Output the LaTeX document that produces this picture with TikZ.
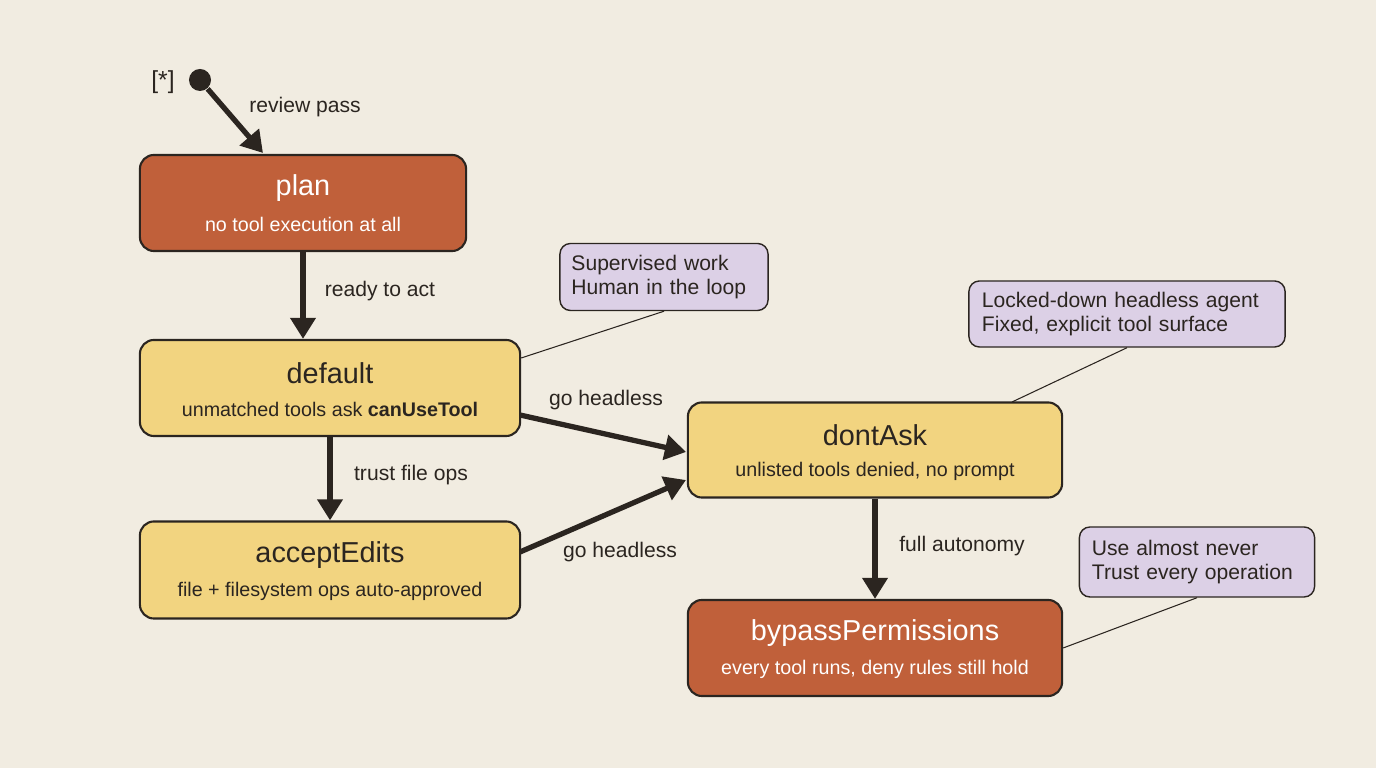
\documentclass[tikz,border=0pt]{standalone}
\usepackage{fontspec}
\setmainfont{Liberation Sans}
\usetikzlibrary{arrows.meta}
\definecolor{bg}{HTML}{F1ECE1}
\definecolor{hot}{HTML}{C0603A}
\definecolor{warm}{HTML}{F2D480}
\definecolor{note}{HTML}{DCD0E6}
\definecolor{ink}{HTML}{2B2520}
\begin{document}
\begin{tikzpicture}[x=0.01cm,y=-0.01cm,
  st/.style={draw=ink,line width=0.6pt,rounded corners=4pt,align=center,inner sep=0pt},
  hotst/.style={st,fill=hot,text=white},
  warmst/.style={st,fill=warm,text=ink},
  nt/.style={draw=ink,line width=0.4pt,fill=note,rounded corners=3pt,align=left,text=ink,font=\fontsize{6}{7}\selectfont,inner sep=0pt},
  arr/.style={-{Triangle[length=6pt,width=7pt]},line width=1.5pt,draw=ink},
  lbl/.style={text=ink,font=\fontsize{6}{7}\selectfont},
  nl/.style={draw=ink,line width=0.3pt},
  tt/.style={font=\fontsize{8.2}{10}\selectfont},
  sub/.style={font=\fontsize{5.6}{7}\selectfont}]
\fill[bg] (0,0) rectangle (1376,768);
\useasboundingbox (0,0) rectangle (1376,768);
\node[circle,fill=ink,minimum size=22\pgflinewidth,inner sep=0pt,minimum size=0.22cm] (init) at (200,80) {};
\node[lbl,font=\fontsize{7}{8}\selectfont] (star) at (163,82) {[*]};
\node[hotst,minimum width=3.26cm,minimum height=0.96cm] (plan) at (303,203) {};
\node[tt,text=white] (planT) at (303,188) {plan};
\node[sub,text=white] (planS) at (303,224) {no tool execution at all};
\node[warmst,minimum width=3.8cm,minimum height=0.96cm] (def) at (330,388) {};
\node[tt,text=ink] (defT) at (330,373) {default};
\node[sub,text=ink] (defS) at (330,409) {unmatched tools ask \textbf{canUseTool}};
\node[warmst,minimum width=3.8cm,minimum height=0.97cm] (acc) at (330,570) {};
\node[tt,text=ink] (accT) at (330,555) {acceptEdits};
\node[sub,text=ink] (accS) at (330,591) {file + filesystem ops auto-approved};
\node[warmst,minimum width=3.74cm,minimum height=0.95cm] (dont) at (875,450) {};
\node[tt,text=ink] (dontT) at (875,435) {dontAsk};
\node[sub,text=ink] (dontS) at (875,471) {unlisted tools denied, no prompt};
\node[hotst,minimum width=3.74cm,minimum height=0.96cm] (byp) at (875,648) {};
\node[tt,text=white] (bypT) at (875,633) {bypassPermissions};
\node[sub,text=white] (bypS) at (875,669) {every tool runs, deny rules still hold};
\node[nt,minimum width=2.08cm,minimum height=0.67cm,text width=1.85cm] (n1) at (664,277) {Supervised work\\Human in the loop};
\node[nt,minimum width=3.16cm,minimum height=0.66cm,text width=2.9cm] (n2) at (1127,314) {Locked-down headless agent\\Fixed, explicit tool surface};
\node[nt,minimum width=2.35cm,minimum height=0.7cm,text width=2.1cm] (n3) at (1197,562) {Use almost never\\Trust every operation};
\draw[nl] (n1.south) -- (def.east |- 0,358);
\draw[nl] (n2.south) -- (1012,402);
\draw[nl] (n3.south) -- (byp.east);
\draw[arr] (init) -- (263,153);
\node[lbl] (l1) at (305,107) {review pass};
\draw[arr] (plan) -- (def.north -| plan);
\node[lbl] (l2) at (380,291) {ready to act};
\draw[arr] (def) -- (acc);
\node[lbl] (l3) at (411,475) {trust file ops};
\draw[arr] (520,415) -- (686,452);
\node[lbl] (l4) at (606,400) {go headless};
\draw[arr] (520,552) -- (686,480);
\node[lbl] (l5) at (620,552) {go headless};
\draw[arr] (dont) -- (byp);
\node[lbl] (l6) at (962,546) {full autonomy};
\end{tikzpicture}
\end{document}
